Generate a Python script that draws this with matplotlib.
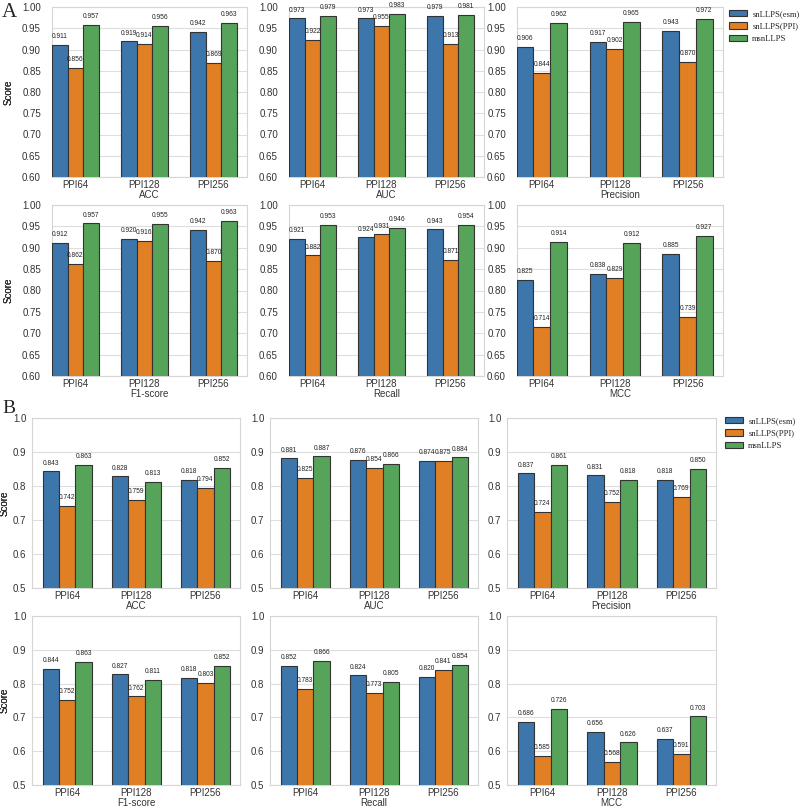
import numpy as np
import matplotlib
matplotlib.use("Agg")
import matplotlib.pyplot as plt
import seaborn as sns
from matplotlib.patches import Patch

sns.set_style("whitegrid")
plt.rcParams['font.family'] = ['Liberation Sans', 'DejaVu Sans']

# 데이터
groups = ["PPI64", "PPI128", "PPI256"]
models = ["snLLPS(esm)", "snLLPS(PPI)", "msnLLPS"]
metrics = ["ACC", "AUC", "Precision", "F1-score", "Recall", "MCC"]

# A 패널
a_esm = {
    "ACC": [0.911, 0.919, 0.942],
    "AUC": [0.973, 0.973, 0.979],
    "Precision": [0.906, 0.917, 0.943],
    "F1-score": [0.912, 0.920, 0.942],
    "Recall": [0.921, 0.924, 0.943],
    "MCC": [0.825, 0.838, 0.885],
}
a_ppi = {
    "ACC": [0.856, 0.914, 0.869],
    "AUC": [0.922, 0.955, 0.913],
    "Precision": [0.844, 0.902, 0.870],
    "F1-score": [0.862, 0.916, 0.870],
    "Recall": [0.882, 0.931, 0.871],
    "MCC": [0.714, 0.829, 0.739],
}
a_msn = {
    "ACC": [0.957, 0.956, 0.963],
    "AUC": [0.979, 0.983, 0.981],
    "Precision": [0.962, 0.965, 0.972],
    "F1-score": [0.957, 0.955, 0.963],
    "Recall": [0.953, 0.946, 0.954],
    "MCC": [0.914, 0.912, 0.927],
}

# B 패널
b_esm = {
    "ACC": [0.843, 0.828, 0.818],
    "AUC": [0.881, 0.876, 0.874],
    "Precision": [0.837, 0.831, 0.818],
    "F1-score": [0.844, 0.827, 0.818],
    "Recall": [0.852, 0.824, 0.820],
    "MCC": [0.686, 0.656, 0.637],
}
b_ppi = {
    "ACC": [0.742, 0.759, 0.794],
    "AUC": [0.825, 0.854, 0.875],
    "Precision": [0.724, 0.752, 0.769],
    "F1-score": [0.752, 0.762, 0.803],
    "Recall": [0.783, 0.773, 0.841],
    "MCC": [0.585, 0.568, 0.591],
}
b_msn = {
    "ACC": [0.863, 0.813, 0.852],
    "AUC": [0.887, 0.866, 0.884],
    "Precision": [0.861, 0.818, 0.850],
    "F1-score": [0.863, 0.811, 0.852],
    "Recall": [0.866, 0.805, 0.854],
    "MCC": [0.726, 0.626, 0.703],
}

colors = ['#3d76aa', '#e07f23', '#56a35a']

W, H = 800, 809
fig = plt.figure(figsize=(W / 100, H / 100), dpi=100)


def ax_at(x0, y0, x1, y1):
    # 픽셀 좌표로 축 배치
    return fig.add_axes([x0 / W, 1 - y1 / H, (x1 - x0) / W, (y1 - y0) / H])


def draw(ax, esm, ppi, msn, metric, width, ylim, yticks, fmt, xlim, ylab_x, pad):
    x = np.arange(len(groups))
    series = [esm[metric], ppi[metric], msn[metric]]
    for i, vals in enumerate(series):
        bars = ax.bar(x + (i - 1) * width, vals, width, color=colors[i],
                      edgecolor='#333333', linewidth=0.8, zorder=3)
        for b, v in zip(bars, vals):
            ax.annotate("%.3f" % v, (b.get_x() + b.get_width() / 2, v),
                        xytext=(0, 3.5), textcoords='offset points',
                        ha='center', va='bottom', fontsize=4.8, color='#222222')
    ax.set_ylim(*ylim)
    ax.set_yticks(yticks)
    ax.set_yticklabels([fmt % t for t in yticks])
    ax.set_xlim(*xlim)
    ax.set_xticks(x)
    ax.set_xticklabels(groups)
    ax.grid(axis='x', visible=False)
    ax.grid(axis='y', color='#dedede', linewidth=0.8, zorder=0)
    for s in ax.spines.values():
        s.set_color('#d5d5d5')
        s.set_linewidth(0.8)
    ax.tick_params(axis='y', labelsize=7, pad=pad, length=0, colors='#333333')
    ax.tick_params(axis='x', labelsize=7, pad=2.5, length=0, colors='#333333')
    ax.set_xlabel(metric, fontsize=7, labelpad=0, color='#333333')
    ax.set_ylabel("Score", fontsize=7, color='#333333')
    ax.yaxis.set_label_coords(ylab_x, 0.5)


# A 패널 축 위치
a_cols = [(52, 247), (289, 484), (517, 723)]
a_rows = [(7, 177), (205, 376)]
for k, m in enumerate(metrics):
    r, c = divmod(k, 3)
    x0, x1 = a_cols[c]
    y0, y1 = a_rows[r]
    ax = ax_at(x0, y0, x1, y1)
    draw(ax, a_esm, a_ppi, a_msn, m, 0.23, (0.6, 1.0),
         np.arange(0.60, 1.001, 0.05), "%.2f", (-0.34, 2.485),
         (14 - x0) / (x1 - x0), 8)

# B 패널 축 위치
b_cols = [(32, 240), (270, 478), (507, 716)]
b_rows = [(418, 588), (616, 785)]
for k, m in enumerate(metrics):
    r, c = divmod(k, 3)
    x0, x1 = b_cols[c]
    y0, y1 = b_rows[r]
    ax = ax_at(x0, y0, x1, y1)
    draw(ax, b_esm, b_ppi, b_msn, m, 0.237, (0.5, 1.0),
         np.arange(0.5, 1.001, 0.1), "%.1f", (-0.51, 2.5),
         (10 - x0) / (x1 - x0), 4)

handles = [Patch(facecolor=colors[i], edgecolor='#333333', linewidth=0.8, label=models[i])
           for i in range(3)]
for (lx, ly) in [(729, 10), (725, 417)]:
    fig.legend(handles=handles, loc='upper left',
               bbox_to_anchor=(lx / W, 1 - ly / H), frameon=False,
               prop={'family': 'Liberation Serif', 'size': 6.2},
               handlelength=2.1, handleheight=0.75, labelspacing=0.5,
               borderaxespad=0, borderpad=0, handletextpad=0.6)

fig.text(2 / W, 1 - 3 / H, "A", family='Liberation Serif', fontsize=15, va='top', ha='left')
fig.text(2 / W, 1 - 400 / H, "B", family='Liberation Serif', fontsize=14, va='top', ha='left')

fig.savefig("out.png", dpi=100)
